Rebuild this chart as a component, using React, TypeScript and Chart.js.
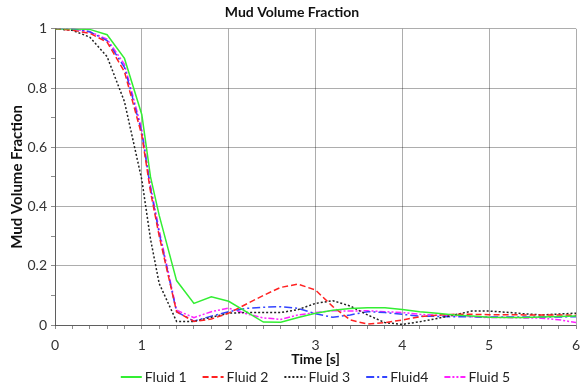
import React, { useEffect, useRef } from "react";
import { Chart, registerables } from "chart.js";

Chart.register(...registerables);

const times = [0, 0.2, 0.4, 0.6, 0.8, 1.0, 1.1, 1.2, 1.4, 1.6, 1.8, 2.0, 2.2, 2.4, 2.6, 2.8, 3.0, 3.2, 3.4, 3.6, 3.8, 4.0, 4.2, 4.4, 4.6, 4.8, 5.0, 5.2, 5.4, 5.6, 5.8, 6.0];

const fluid1 = [1, 1, 0.998, 0.98, 0.9, 0.71, 0.5, 0.37, 0.15, 0.073, 0.095, 0.08, 0.045, 0.01, 0.009, 0.025, 0.04, 0.05, 0.056, 0.058, 0.058, 0.052, 0.045, 0.04, 0.034, 0.03, 0.026, 0.025, 0.025, 0.027, 0.029, 0.03];
const fluid2 = [1, 0.995, 0.985, 0.955, 0.855, 0.64, 0.45, 0.3, 0.045, 0.012, 0.02, 0.04, 0.07, 0.1, 0.127, 0.138, 0.118, 0.062, 0.017, 0.003, 0.008, 0.017, 0.028, 0.033, 0.036, 0.036, 0.035, 0.035, 0.034, 0.034, 0.034, 0.033];
const fluid3 = [1, 0.995, 0.972, 0.906, 0.754, 0.49, 0.29, 0.14, 0.012, 0.012, 0.026, 0.04, 0.042, 0.042, 0.042, 0.052, 0.073, 0.082, 0.064, 0.034, 0.008, 0.002, 0.011, 0.022, 0.034, 0.047, 0.047, 0.043, 0.038, 0.034, 0.037, 0.04];
const fluid4 = [1, 1, 0.99, 0.96, 0.87, 0.65, 0.46, 0.31, 0.045, 0.013, 0.03, 0.045, 0.056, 0.06, 0.062, 0.056, 0.038, 0.026, 0.034, 0.045, 0.042, 0.036, 0.03, 0.029, 0.028, 0.028, 0.027, 0.027, 0.027, 0.027, 0.027, 0.028];
const fluid5 = [1, 1, 0.99, 0.965, 0.88, 0.66, 0.47, 0.32, 0.05, 0.025, 0.045, 0.057, 0.038, 0.024, 0.019, 0.034, 0.042, 0.048, 0.047, 0.048, 0.045, 0.042, 0.036, 0.033, 0.031, 0.028, 0.025, 0.025, 0.024, 0.023, 0.018, 0.008];

const seriesNames = ["Fluid 1", "Fluid 2", "Fluid 3", "Fluid4", "Fluid 5"];
const seriesColors = ["#33ee33", "#ff2222", "#222222", "#3344ff", "#ff22ff"];
const seriesDashes = [[], [6, 3], [2, 2], [8, 3, 2, 3], [6, 2, 2, 2, 2, 2]];
const seriesValues = [fluid1, fluid2, fluid3, fluid4, fluid5];

const titleText = "Mud Volume Fraction";
const xTitle = "Time [s]";
const yTitle = "Mud Volume Fraction";

const FONT = "Lato, 'Open Sans', sans-serif";

const isMult = (v: number, step: number) => Math.abs(v / step - Math.round(v / step)) < 1e-6;

const legendPlugin = {
  id: "lineLegend",
  afterDraw(chart: any) {
    const ctx = chart.ctx;
    const sample = 21;
    const gapText = 3;
    const gapItems = 16;
    ctx.save();
    ctx.font = `14px ${FONT}`;
    const widths = seriesNames.map((n) => ctx.measureText(n).width);
    const total = widths.reduce((a, w) => a + sample + gapText + w, 0) + gapItems * (seriesNames.length - 1);
    const cx = (chart.chartArea.left + chart.chartArea.right) / 2;
    let x = cx - total / 2;
    const y = chart.height - 12;
    seriesNames.forEach((name, i) => {
      ctx.beginPath();
      ctx.strokeStyle = seriesColors[i];
      ctx.lineWidth = 2;
      ctx.setLineDash(seriesDashes[i]);
      ctx.moveTo(x, y);
      ctx.lineTo(x + sample, y);
      ctx.stroke();
      ctx.setLineDash([]);
      ctx.fillStyle = "#222";
      ctx.textAlign = "left";
      ctx.textBaseline = "middle";
      ctx.fillText(name, x + sample + gapText, y);
      x += sample + gapText + widths[i] + gapItems;
    });
    ctx.restore();
  },
};

export default function App() {
  const ref = useRef<HTMLCanvasElement | null>(null);
  useEffect(() => {
    if (!ref.current) return;
    const datasets = seriesValues.map((vals, i) => ({
      label: seriesNames[i],
      data: times.map((t, j) => ({ x: t, y: vals[j] })),
      borderColor: seriesColors[i],
      backgroundColor: seriesColors[i],
      borderDash: seriesDashes[i],
      borderWidth: 1.5,
      pointRadius: 0,
      tension: 0,
      fill: false,
    }));
    const chart = new Chart(ref.current, {
      type: "line",
      data: { datasets },
      plugins: [legendPlugin],
      options: {
        animation: false,
        responsive: true,
        maintainAspectRatio: false,
        layout: { padding: { left: 4, right: 0, top: 4, bottom: 21 } },
        plugins: {
          title: {
            display: true,
            text: titleText,
            color: "#111",
            font: { family: FONT, size: 14, weight: "bold" },
            padding: { top: 0, bottom: 8 },
          },
          legend: { display: false },
          tooltip: { enabled: false },
        },
        scales: {
          x: {
            type: "linear",
            min: 0,
            max: 6,
            afterFit: (s: any) => {
              s.height = 43;
              s.paddingRight = 4;
              s.paddingLeft = 0;
            },
            title: {
              display: true,
              text: xTitle,
              color: "#111",
              font: { family: FONT, size: 14, weight: "bold" },
              padding: { top: 0, bottom: 0 },
            },
            ticks: {
              stepSize: 0.2,
              autoSkip: false,
              maxRotation: 0,
              color: "#333",
              font: { family: FONT, size: 14 },
              padding: 8,
              callback: (v: any) => (isMult(Number(v), 1) ? String(Math.round(Number(v))) : ""),
            },
            grid: {
              color: (c: any) => (c.tick && isMult(c.tick.value, 1) ? "rgba(0,0,0,0.32)" : "rgba(0,0,0,0)"),
              tickColor: "rgba(0,0,0,0.45)",
              tickLength: 4,
              drawTicks: true,
            },
            border: { color: "rgba(0,0,0,0.45)" },
          },
          y: {
            min: 0,
            max: 1,
            afterFit: (s: any) => {
              s.width = 51;
            },
            title: {
              display: true,
              text: yTitle,
              color: "#111",
              font: { family: FONT, size: 15, weight: "bold" },
              padding: { top: 4, bottom: 2 },
            },
            ticks: {
              stepSize: 0.1,
              autoSkip: false,
              color: "#333",
              font: { family: FONT, size: 14 },
              padding: 4,
              callback: (v: any) => (isMult(Number(v), 0.2) ? String(Number(Number(v).toFixed(1))) : ""),
            },
            grid: {
              color: (c: any) => (c.tick && isMult(c.tick.value, 0.2) ? "rgba(0,0,0,0.32)" : "rgba(0,0,0,0)"),
              tickColor: "rgba(0,0,0,0.45)",
              tickLength: 4,
            },
            border: { color: "rgba(0,0,0,0.45)" },
          },
        },
      },
    });
    return () => chart.destroy();
  }, []);
  return (
    <div style={{ position: "fixed", left: 0, top: 0, width: 580, height: 389, background: "#fff" }}>
      <canvas ref={ref} />
    </div>
  );
}
